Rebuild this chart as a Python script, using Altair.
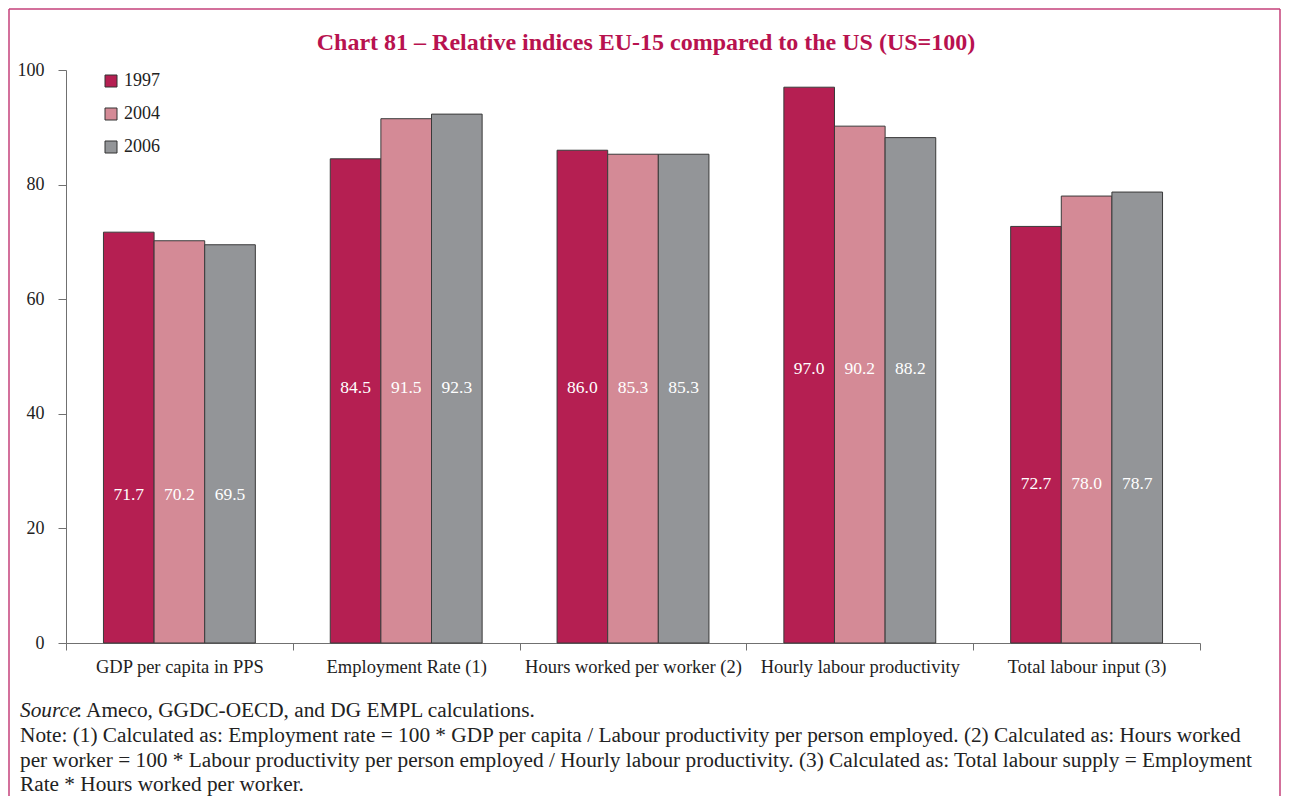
import altair as alt
import pandas as pd

categories = ["GDP per capita in PPS", "Employment Rate (1)", "Hours worked per worker (2)",
              "Hourly labour productivity", "Total labour input (3)"]
years = ["1997", "2004", "2006"]
v1997 = [71.7, 84.5, 86.0, 97.0, 72.7]
v2004 = [70.2, 91.5, 85.3, 90.2, 78.0]
v2006 = [69.5, 92.3, 85.3, 88.2, 78.7]
label_level = [25.8, 44.5, 44.5, 47.8, 27.7]
colors = ["#b51f52", "#d48a96", "#939598"]

title_text = "Chart 81 \u2013 Relative indices EU-15 compared to the US (US=100)"
source_rest = ": Ameco, GGDC-OECD, and DG EMPL calculations."
note_lines = [
    "Note: (1) Calculated as: Employment rate = 100 * GDP per capita / Labour productivity per person employed. (2) Calculated as: Hours worked",
    "per worker = 100 * Labour productivity per person employed / Hourly labour productivity. (3) Calculated as: Total labour supply = Employment",
    "Rate * Hours worked per worker.",
]

rows = []
for i, c in enumerate(categories):
    for y, vals in zip(years, [v1997, v2004, v2006]):
        rows.append({"category": c, "year": y, "value": vals[i],
                     "label_y": label_level[i], "label": f"{vals[i]:.1f}"})
df = pd.DataFrame(rows)

SERIF = "Liberation Serif"
W, H = 1134, 573
PL, PT = 58, 62
FOOT = 21.3

xenc = alt.X("category:N", sort=categories,
             scale=alt.Scale(paddingInner=0, paddingOuter=0),
             axis=alt.Axis(title=None, labelAngle=0, tickBand="extent", tickSize=7, grid=False,
                           labelPadding=7, labelFont=SERIF, labelFontSize=18.5, labelLimit=0,
                           labelColor="#222222", domainColor="#707070", tickColor="#707070"))
xoff = alt.XOffset("year:N", sort=years, scale=alt.Scale(paddingInner=0, paddingOuter=0.74))

bars = alt.Chart(df).mark_bar(stroke="#3a3a3a", strokeWidth=1).encode(
    x=xenc, xOffset=xoff,
    y=alt.Y("value:Q", scale=alt.Scale(domain=[0, 100]),
            axis=alt.Axis(title=None, values=[0, 20, 40, 60, 80, 100], tickSize=8, labelPadding=14,
                          labelFont=SERIF, labelFontSize=18, labelColor="#222222",
                          domainColor="#707070", tickColor="#707070", grid=False)),
    color=alt.Color("year:N", sort=years, scale=alt.Scale(domain=years, range=colors),
                    legend=alt.Legend(title=None, orient="none", legendX=36, legendY=2,
                                      symbolType="square", symbolSize=144,
                                      symbolStrokeColor="#333333", symbolStrokeWidth=1,
                                      labelFont=SERIF, labelFontSize=18, labelColor="#222222",
                                      rowPadding=15, labelOffset=4)),
)

labels = alt.Chart(df).mark_text(font=SERIF, fontSize=17.5, color="white", baseline="middle").encode(
    x=alt.X("category:N", sort=categories), xOffset=alt.XOffset("year:N", sort=years),
    y="label_y:Q", text="label:N",
)

one = pd.DataFrame({"a": [0]})
title = alt.Chart(one).mark_text(text=title_text, font=SERIF, fontSize=24, fontWeight="bold",
                                 color="#b8124f", align="center", baseline="middle").encode(
    x=alt.value(580), y=alt.value(-27))

src_it = alt.Chart(one).mark_text(text="Source", font=SERIF, fontSize=FOOT, fontStyle="italic",
                                  color="#222222", align="left", baseline="middle").encode(
    x=alt.value(-46), y=alt.value(641))
src_rest = alt.Chart(one).mark_text(text=source_rest, font=SERIF, fontSize=FOOT,
                                    color="#222222", align="left", baseline="middle").encode(
    x=alt.value(10), y=alt.value(641))
note_layers = []
for k, line in enumerate(note_lines):
    note_layers.append(alt.Chart(one).mark_text(text=line, font=SERIF, fontSize=FOOT,
                                                color="#222222", align="left", baseline="middle").encode(
        x=alt.value(-46), y=alt.value(666 + 24.5 * k)))

FR = "#c4407a"
left = alt.Chart(one).mark_rule(color=FR, strokeWidth=1.5).encode(
    x=alt.value(-57), y=alt.value(-61), y2=alt.value(730))
top = alt.Chart(one).mark_rule(color=FR, strokeWidth=1.5).encode(
    x=alt.value(-57), x2=alt.value(1214), y=alt.value(-61))
right = alt.Chart(one).mark_rule(color=FR, strokeWidth=1.5).encode(
    x=alt.value(1214), y=alt.value(-61), y2=alt.value(730))

chart = alt.layer(bars, labels, title, src_it, src_rest, *note_layers, left, top, right).properties(
    width=W, height=H,
    autosize=alt.AutoSizeParams(type="none"),
    padding={"left": PL, "top": PT, "right": 1274 - PL - W, "bottom": 788 - PT - H},
).configure(background="white").configure_view(stroke=None)

chart.save("out.html", embed_options={"renderer": "svg", "actions": False})
